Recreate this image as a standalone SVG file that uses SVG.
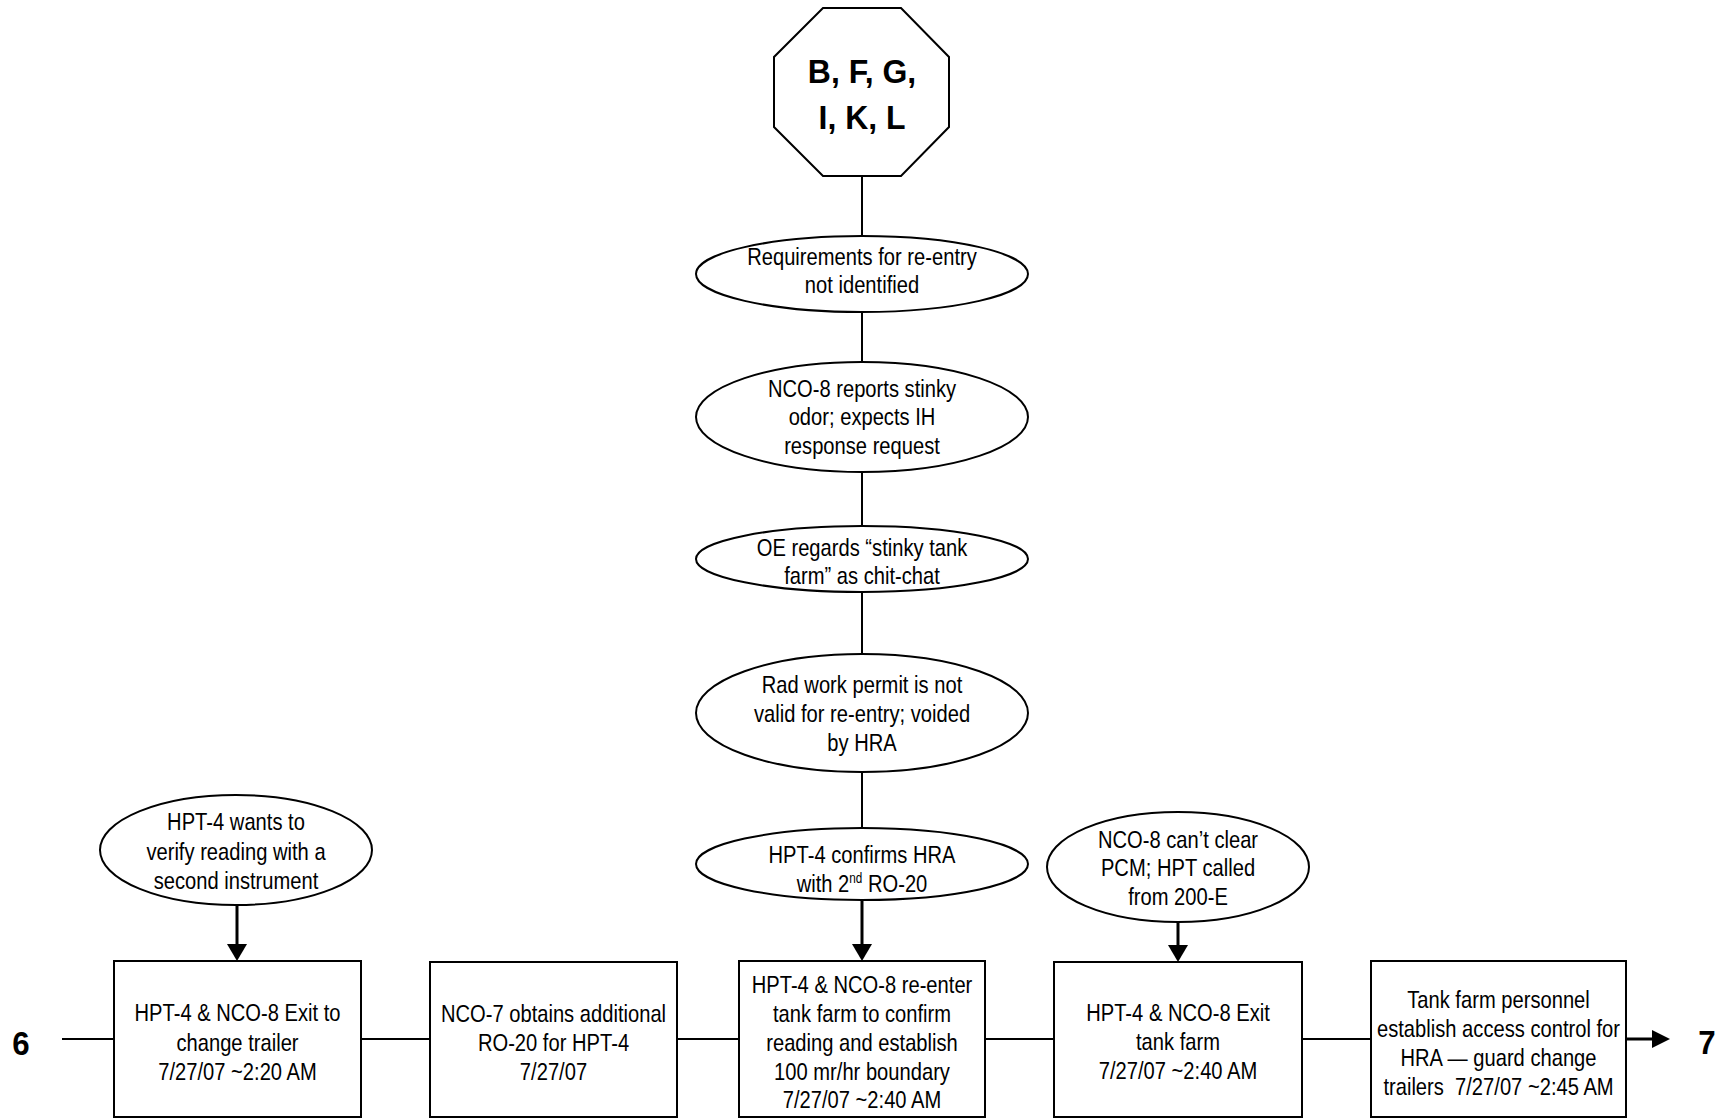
<svg xmlns="http://www.w3.org/2000/svg" width="1726" height="1119" viewBox="0 0 1726 1119">
<style>
.shape{fill:#fff;stroke:#000;stroke-width:2}
.t{font-family:"Liberation Sans",Arial,sans-serif;font-size:24px;fill:#000;text-anchor:middle}
.b{font-family:"Liberation Sans",Arial,sans-serif;font-size:34px;font-weight:bold;fill:#000;text-anchor:middle}
.ln{stroke:#000;stroke-width:2;fill:none}
.ar{stroke:#000;stroke-width:3;fill:none}
.ah{fill:#000}
</style>
<rect width="1726" height="1119" fill="#fff"/>
<g id="connectors">
  <line class="ln" x1="862" y1="176" x2="862" y2="236"/>
  <line class="ln" x1="862" y1="312" x2="862" y2="362"/>
  <line class="ln" x1="862" y1="472" x2="862" y2="526"/>
  <line class="ln" x1="862" y1="592" x2="862" y2="654"/>
  <line class="ln" x1="862" y1="772" x2="862" y2="828"/>
  <line class="ar" x1="862" y1="900" x2="862" y2="945"/>
  <polygon class="ah" points="852,944 872,944 862,961"/>
  <line class="ar" x1="237" y1="905" x2="237" y2="945"/>
  <polygon class="ah" points="227,944 247,944 237,961"/>
  <line class="ar" x1="1178" y1="922" x2="1178" y2="946"/>
  <polygon class="ah" points="1168,945 1188,945 1178,962"/>
  <line class="ln" x1="62" y1="1039" x2="114" y2="1039"/>
  <line class="ln" x1="361" y1="1039" x2="430" y2="1039"/>
  <line class="ln" x1="677" y1="1039" x2="739" y2="1039"/>
  <line class="ln" x1="985" y1="1039" x2="1054" y2="1039"/>
  <line class="ln" x1="1302" y1="1039" x2="1371" y2="1039"/>
  <line class="ar" x1="1626" y1="1039" x2="1654" y2="1039"/>
  <polygon class="ah" points="1652,1030 1652,1048 1670,1039"/>
</g>
<g id="start">
  <polygon class="shape" points="823,8 901,8 949,57 949,127 901,176 823,176 774,127 774,57"/>
  <g transform="translate(862 0) scale(0.94 1)">
    <text class="b"><tspan x="0" y="83">B, F, G,</tspan><tspan x="0" y="129">I, K, L</tspan></text>
  </g>
</g>
<g id="e1">
  <ellipse class="shape" cx="862" cy="274" rx="166" ry="38"/>
  <g transform="translate(862 0) scale(0.84 1)">
    <text class="t"><tspan x="0" y="265">Requirements for re-entry</tspan><tspan x="0" y="293">not identified</tspan></text>
  </g>
</g>
<g id="e2">
  <ellipse class="shape" cx="862" cy="417" rx="166" ry="55"/>
  <g transform="translate(862 0) scale(0.84 1)">
    <text class="t"><tspan x="0" y="397">NCO-8 reports stinky</tspan><tspan x="0" y="425">odor; expects IH</tspan><tspan x="0" y="454">response request</tspan></text>
  </g>
</g>
<g id="e3">
  <ellipse class="shape" cx="862" cy="559" rx="166" ry="33"/>
  <g transform="translate(862 0) scale(0.84 1)">
    <text class="t"><tspan x="0" y="556">OE regards “stinky tank</tspan><tspan x="0" y="584">farm” as chit-chat</tspan></text>
  </g>
</g>
<g id="e4">
  <ellipse class="shape" cx="862" cy="713" rx="166" ry="59"/>
  <g transform="translate(862 0) scale(0.84 1)">
    <text class="t"><tspan x="0" y="693">Rad work permit is not</tspan><tspan x="0" y="722">valid for re-entry; voided</tspan><tspan x="0" y="751">by HRA</tspan></text>
  </g>
</g>
<g id="e5">
  <ellipse class="shape" cx="862" cy="864" rx="166" ry="36"/>
  <g transform="translate(862 0) scale(0.84 1)">
    <text class="t"><tspan x="0" y="863">HPT-4 confirms HRA</tspan><tspan x="0" y="892">with 2<tspan font-size="14" dy="-9">nd</tspan><tspan dy="9"> RO-20</tspan></tspan></text>
  </g>
</g>
<g id="e6">
  <ellipse class="shape" cx="1178" cy="867" rx="131" ry="55"/>
  <g transform="translate(1178 0) scale(0.84 1)">
    <text class="t"><tspan x="0" y="848">NCO-8 can’t clear</tspan><tspan x="0" y="876">PCM; HPT called</tspan><tspan x="0" y="905">from 200-E</tspan></text>
  </g>
</g>
<g id="e7">
  <ellipse class="shape" cx="236" cy="850" rx="136" ry="55"/>
  <g transform="translate(236 0) scale(0.84 1)">
    <text class="t"><tspan x="0" y="830">HPT-4 wants to</tspan><tspan x="0" y="860">verify reading with a</tspan><tspan x="0" y="889">second instrument</tspan></text>
  </g>
</g>
<g id="b1">
  <rect class="shape" x="114" y="961" width="247" height="156"/>
  <g transform="translate(237.5 0) scale(0.84 1)">
    <text class="t"><tspan x="0" y="1021">HPT-4 &amp; NCO-8 Exit to</tspan><tspan x="0" y="1051">change trailer</tspan><tspan x="0" y="1080">7/27/07 ~2:20 AM</tspan></text>
  </g>
</g>
<g id="b2">
  <rect class="shape" x="430" y="962" width="247" height="155"/>
  <g transform="translate(553.5 0) scale(0.84 1)">
    <text class="t"><tspan x="0" y="1022">NCO-7 obtains additional</tspan><tspan x="0" y="1051">RO-20 for HPT-4</tspan><tspan x="0" y="1080">7/27/07</tspan></text>
  </g>
</g>
<g id="b3">
  <rect class="shape" x="739" y="961" width="246" height="156"/>
  <g transform="translate(862 0) scale(0.84 1)">
    <text class="t"><tspan x="0" y="993">HPT-4 &amp; NCO-8 re-enter</tspan><tspan x="0" y="1022">tank farm to confirm</tspan><tspan x="0" y="1051">reading and establish</tspan><tspan x="0" y="1080">100 mr/hr boundary</tspan><tspan x="0" y="1108">7/27/07 ~2:40 AM</tspan></text>
  </g>
</g>
<g id="b4">
  <rect class="shape" x="1054" y="962" width="248" height="155"/>
  <g transform="translate(1178 0) scale(0.84 1)">
    <text class="t"><tspan x="0" y="1021">HPT-4 &amp; NCO-8 Exit</tspan><tspan x="0" y="1050">tank farm</tspan><tspan x="0" y="1079">7/27/07 ~2:40 AM</tspan></text>
  </g>
</g>
<g id="b5">
  <rect class="shape" x="1371" y="961" width="255" height="156"/>
  <g transform="translate(1498.5 0) scale(0.84 1)">
    <text class="t" xml:space="preserve"><tspan x="0" y="1008">Tank farm personnel</tspan><tspan x="0" y="1037">establish access control for</tspan><tspan x="0" y="1066">HRA — guard change</tspan><tspan x="0" y="1095">trailers  7/27/07 ~2:45 AM</tspan></text>
  </g>
</g>
<g id="label6">
  <g transform="translate(21 0) scale(0.92 1)"><text class="b" x="0" y="1055">6</text></g>
</g>
<g id="label7">
  <g transform="translate(1707 0) scale(0.92 1)"><text class="b" x="0" y="1054">7</text></g>
</g>
</svg>
